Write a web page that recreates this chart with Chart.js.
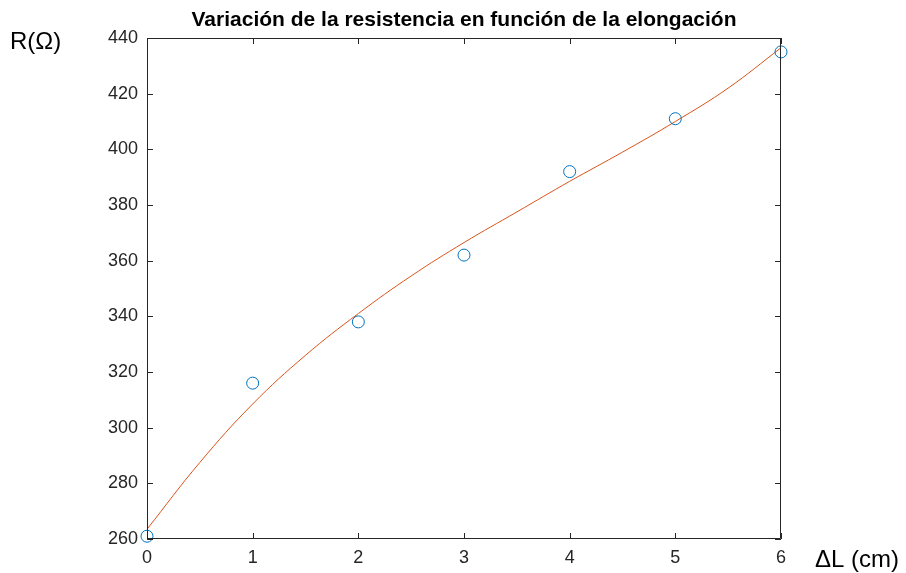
<!DOCTYPE html>
<html>
<head>
<meta charset="utf-8">
<script src="https://cdn.jsdelivr.net/npm/chart.js@4"></script>
<style>
  body { margin: 0; background: #fff; }
  #wrap { width: 906px; height: 573px; }
</style>
</head>
<body>
<div id="wrap"><canvas id="grafica"></canvas></div>
<script>
// medidas
const elongacion = [0, 1, 2, 3, 4, 5, 6];
const resistencia = [261, 316, 338, 362, 392, 411, 435];

// curva de ajuste
const ajusteX = [0, 0.5, 1, 1.5, 2, 2.5, 3, 3.5, 4, 4.5, 5, 5.5, 6];
const ajusteY = [263.5, 287.5, 308.5, 326, 341, 354.5, 366.5, 377.5, 388.5, 399, 410, 422, 436.5];

const ticksX = [0, 1, 2, 3, 4, 5, 6];
const ticksY = [260, 280, 300, 320, 340, 360, 380, 400, 420, 440];

const fuente = "'Liberation Sans', Arial, sans-serif";

// marcas hacia dentro, caja y textos sueltos al estilo matlab
const estiloMatlab = {
    id: 'estiloMatlab',
    afterDraw(chart) {
        const ctx = chart.ctx;
        const a = chart.chartArea;
        const sx = chart.scales.x;
        const sy = chart.scales.y;
        ctx.save();
        ctx.strokeStyle = '#262626';
        ctx.lineWidth = 1;
        ctx.beginPath();
        ctx.rect(a.left + 0.5, a.top + 0.5, a.right - a.left - 1, a.bottom - a.top - 1);
        ticksX.forEach((v) => {
            const px = Math.round(sx.getPixelForValue(v)) + 0.5;
            ctx.moveTo(px, a.bottom);
            ctx.lineTo(px, a.bottom - 6);
            ctx.moveTo(px, a.top);
            ctx.lineTo(px, a.top + 6);
        });
        ticksY.forEach((v) => {
            const py = Math.round(sy.getPixelForValue(v)) + 0.5;
            ctx.moveTo(a.left, py);
            ctx.lineTo(a.left + 6, py);
            ctx.moveTo(a.right, py);
            ctx.lineTo(a.right - 6, py);
        });
        ctx.stroke();

        ctx.fillStyle = '#000';
        ctx.textBaseline = 'middle';
        ctx.textAlign = 'center';
        ctx.font = 'bold 21px ' + fuente;
        ctx.fillText('Variación de la resistencia en función de la elongación', (a.left + a.right) / 2, 20);

        ctx.font = '24px ' + fuente;
        ctx.textAlign = 'left';
        ctx.fillText('R(Ω)', 10, 42);
        ctx.fillText('ΔL (cm)', 815, 560);
        ctx.restore();
    }
};

new Chart(document.getElementById('grafica'), {
    type: 'scatter',
    data: {
        datasets: [
            {
                label: 'medidas',
                data: elongacion.map((x, i) => ({ x: x, y: resistencia[i] })),
                pointStyle: 'circle',
                pointRadius: 6,
                pointBorderWidth: 1,
                pointBorderColor: '#0072BD',
                pointBackgroundColor: 'rgba(0,0,0,0)',
                showLine: false,
                clip: false
            },
            {
                label: 'ajuste',
                data: ajusteX.map((x, i) => ({ x: x, y: ajusteY[i] })),
                showLine: true,
                borderColor: '#D95319',
                borderWidth: 1,
                pointRadius: 0,
                tension: 0.4,
                fill: false
            }
        ]
    },
    options: {
        responsive: true,
        maintainAspectRatio: false,
        animation: false,
        layout: {
            padding: { top: 38, right: 125, left: 0, bottom: 0 }
        },
        plugins: {
            legend: { display: false },
            title: { display: false },
            tooltip: { enabled: false }
        },
        scales: {
            x: {
                type: 'linear',
                min: 0,
                max: 6,
                afterFit: (scale) => { scale.height = 34; },
                afterBuildTicks: (scale) => { scale.ticks = ticksX.map((v) => ({ value: v })); },
                grid: { display: false, drawTicks: false },
                border: { display: false },
                ticks: {
                    color: '#262626',
                    padding: 8,
                    font: { family: fuente, size: 18 }
                }
            },
            y: {
                type: 'linear',
                min: 260,
                max: 440,
                afterFit: (scale) => { scale.width = 147; },
                afterBuildTicks: (scale) => { scale.ticks = ticksY.map((v) => ({ value: v })); },
                grid: { display: false, drawTicks: false },
                border: { display: false },
                ticks: {
                    color: '#262626',
                    padding: 9,
                    font: { family: fuente, size: 18 }
                }
            }
        }
    },
    plugins: [estiloMatlab]
});
</script>
</body>
</html>
